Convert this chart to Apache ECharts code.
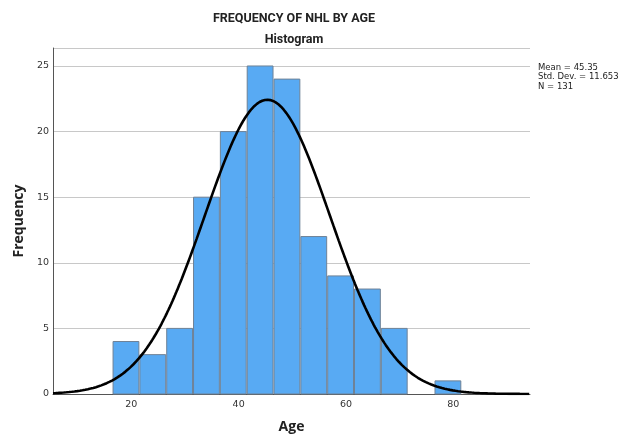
<!DOCTYPE html>
<html>
<head>
<meta charset="utf-8">
<script src="https://cdn.jsdelivr.net/npm/echarts@6/dist/echarts.min.js"></script>
<style>html,body{margin:0;padding:0;background:#fff}#c{width:627px;height:436px}</style>
</head>
<body>
<div id="c"></div>
<script>
// Data
var binStart = 16.5;
var binWidth = 5;
var counts = [4, 3, 5, 15, 20, 25, 24, 12, 9, 8, 5, 0, 1];
var yTicks = [0, 5, 10, 15, 20, 25];
var xTicks = [20, 40, 60, 80];
var stats = { mean: 45.35, sd: 11.653, n: 131 };

var barData = counts.map(function (c, i) {
  return [binStart + i * binWidth, binStart + (i + 1) * binWidth, c];
});

// Fitted normal curve (from the reported mean, std. dev. and N)
var curve = [];
for (var x = 5.4; x <= 94.3; x += 0.25) {
  var z = (x - stats.mean) / stats.sd;
  curve.push([x, stats.n * binWidth * Math.exp(-0.5 * z * z) / (stats.sd * Math.sqrt(2 * Math.PI))]);
}

var chart = echarts.init(document.getElementById('c'), null, { renderer: 'canvas' });
var font = '"DejaVu Sans", sans-serif';
var tfont = 'Roboto, sans-serif';
var nfont = '"Open Sans", sans-serif';
chart.setOption({
  animation: false,
  title: [
    { text: 'FREQUENCY OF NHL BY AGE', left: 289, top: 7, textAlign: 'center',
      textStyle: { fontFamily: tfont, fontSize: 12.5, fontWeight: 'bold', color: '#222' } },
    { text: 'Histogram', left: 289, top: 28, textAlign: 'center',
      textStyle: { fontFamily: tfont, fontSize: 12.5, fontWeight: 'bold', color: '#222' } }
  ],
  graphic: [{
    type: 'text', left: 538, top: 63,
    style: { text: 'Mean = ' + stats.mean + '\nStd. Dev. = ' + stats.sd + '\nN = ' + stats.n,
      font: '8.5px ' + font, fill: '#222', lineHeight: 9.5 }
  }],
  grid: { left: 53, right: 97, top: 48, bottom: 42, outerBoundsMode: 'none', containLabel: false },
  xAxis: {
    type: 'value', min: 5.4, max: 94.3,
    name: 'Age', nameLocation: 'middle', nameGap: 26,
    nameTextStyle: { fontFamily: nfont, fontSize: 14, fontWeight: 'bold', color: '#222' },
    axisLine: { show: true, onZero: false, lineStyle: { color: '#555', width: 1 } },
    axisTick: { show: false },
    splitLine: { show: false },
    axisLabel: {
      fontFamily: font, fontSize: 9.5, color: '#333', margin: 6,
      customValues: xTicks,
      formatter: function (v) { return String(v); }
    }
  },
  yAxis: {
    type: 'value', min: 0, max: 26.37, interval: 5,
    name: 'Frequency', nameLocation: 'middle', nameGap: 25,
    nameTextStyle: { fontFamily: nfont, fontSize: 14, fontWeight: 'bold', color: '#222' },
    axisLine: { show: true, lineStyle: { color: '#555', width: 1 } },
    axisTick: { show: false },
    axisLabel: { fontFamily: font, fontSize: 9.5, color: '#333', margin: 4,
      customValues: yTicks },
    splitLine: { show: true, lineStyle: { color: '#c8c8c8', width: 1 } }
  },
  series: [
    {
      type: 'custom',
      data: barData,
      encode: { x: [0, 1], y: 2 },
      renderItem: function (params, api) {
        var p0 = api.coord([api.value(0), 0]);
        var p1 = api.coord([api.value(1), api.value(2)]);
        if (api.value(2) <= 0) return null;
        return {
          type: 'rect',
          shape: { x: p0[0] + 0.5, y: p1[1], width: p1[0] - p0[0] - 1, height: p0[1] - p1[1] },
          style: { fill: '#58aaf3', stroke: '#6f8296', lineWidth: 1 }
        };
      },
      z: 2
    },
    {
      type: 'line',
      data: curve,
      showSymbol: false,
      smooth: false,
      lineStyle: { color: '#000', width: 2.6 },
      z: 3
    }
  ]
});
</script>
</body>
</html>
